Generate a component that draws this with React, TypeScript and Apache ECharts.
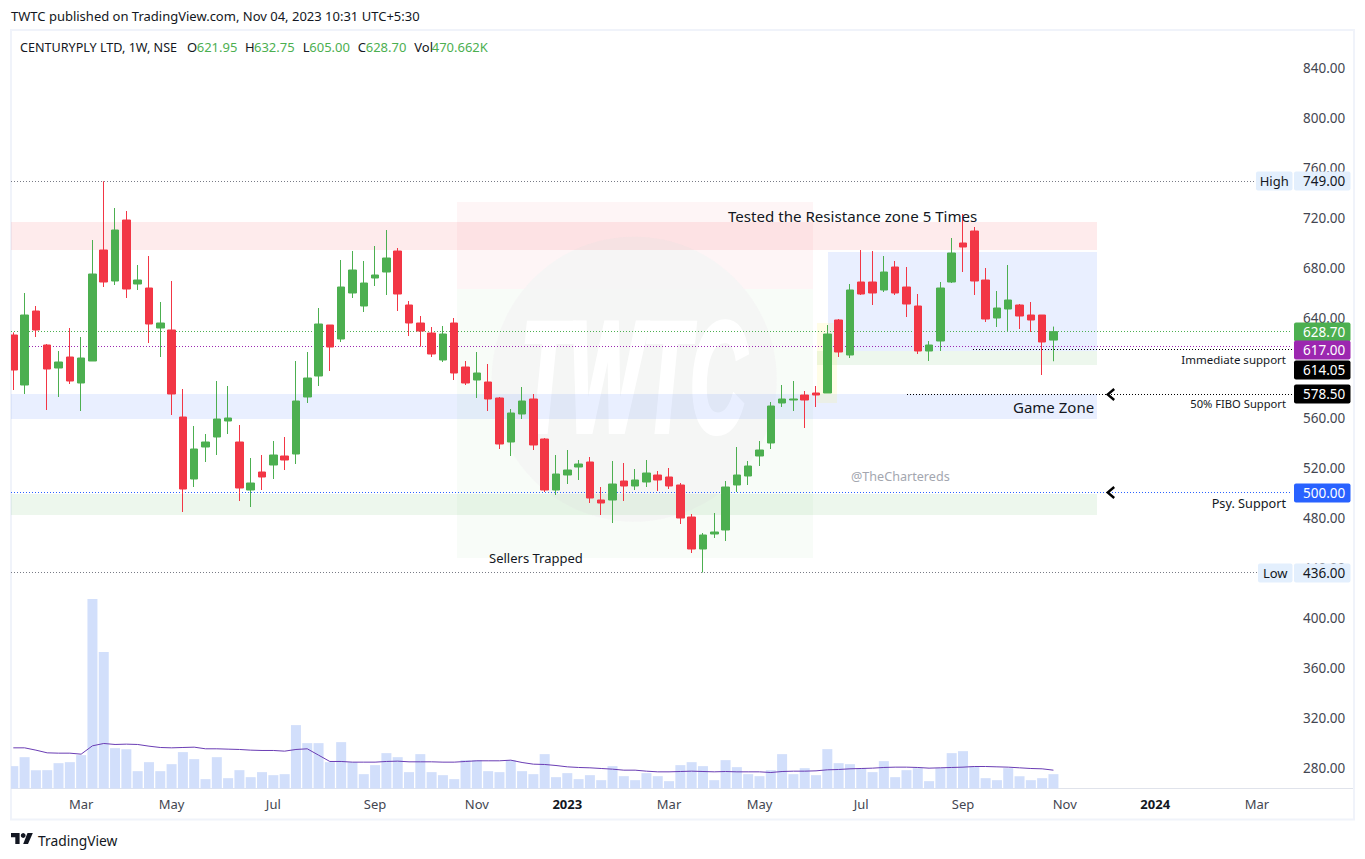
import { useEffect, useRef } from 'react';
import * as echarts from 'echarts';

// weekly OHLC
const opens = [626, 586, 645.2, 618, 599.6, 608.4, 587.6, 605.2, 694, 669.2, 718, 666.8, 663.6, 631.6, 630, 560.4, 510.8, 536.4, 544.4, 557.2, 540.4, 502, 516.4, 522, 529.2, 530.8, 576.4, 593.2, 634, 622.8, 659.6, 649.2, 671.6, 676.4, 693.2, 650, 635.6, 627.6, 606, 635.6, 600.4, 590, 588.4, 575.6, 540.4, 562.8, 574.8, 542.8, 502, 514, 520.4, 524.4, 494, 494, 509.2, 505.2, 508.4, 514, 512.4, 506, 480.4, 454.8, 466.8, 470, 506, 513.2, 529.2, 539.6, 571.6, 574, 578, 579.6, 579.6, 638, 610, 668.4, 668.4, 662, 680.4, 664.4, 649.2, 613.2, 621.2, 668.4, 699.6, 709.2, 670, 639.6, 646.8, 650, 642, 642, 621.95];
const highs = [628.1, 659.6, 649.2, 618.8, 613.2, 631.6, 624.4, 702, 749, 727.6, 725.2, 682, 689.2, 652.4, 669.2, 582.8, 553.2, 546.8, 589.2, 585.2, 554, 527.6, 530, 541.2, 544.4, 605.2, 612.4, 647.6, 634, 686, 693.2, 685.2, 697.2, 710, 695.6, 653.2, 641.2, 632.4, 633.2, 639.6, 605.2, 612.4, 602.8, 576.4, 566.8, 584.4, 578.8, 543.6, 530, 534, 526, 528.4, 504.4, 525.2, 523.6, 518.8, 526, 517.2, 519.6, 507.6, 482.8, 467.6, 483.6, 509.2, 536.4, 525.2, 541.2, 572.4, 586, 589.2, 581.2, 585.2, 634, 638.8, 666.8, 694, 693.2, 689.2, 685.2, 680.4, 658.8, 621.2, 668.4, 703.6, 722.8, 712.4, 679.6, 661.2, 682, 650.8, 652.4, 642, 632.75];
const lows = [582, 578.8, 624.4, 566, 576.4, 586.8, 565.2, 605.2, 664.4, 666, 655.6, 662, 619.6, 608.4, 562, 484.4, 504.4, 524.4, 530, 546.8, 493.2, 488.4, 502, 510.8, 518, 522.8, 571.6, 585.2, 597.2, 620.4, 655.6, 644.4, 665.2, 658, 645.2, 625.2, 616.7, 608.4, 604.4, 590, 586, 575.6, 565.2, 534.8, 529.2, 558.8, 534, 500.4, 498, 506.8, 510, 491.6, 482, 475.6, 493.2, 502, 504.4, 501.2, 502.8, 474.8, 451.6, 436, 463.6, 461.2, 500.4, 506, 521.2, 534.8, 568.4, 565.2, 551.6, 568.4, 579.6, 608.4, 607.6, 658, 650, 660.4, 658, 640.4, 610.8, 605.2, 613.2, 667.6, 676.4, 658, 636.4, 632.4, 628.4, 630.8, 628.4, 594, 605];
const closes = [598, 642, 630, 598.8, 604.4, 589.2, 607.6, 674.8, 668.4, 710, 662.8, 670, 634.8, 635.6, 578.8, 502.8, 534.8, 540.4, 558.8, 559.6, 503.6, 507.6, 512.4, 530, 526, 573.2, 591.6, 634.8, 616.4, 664.4, 678, 667.6, 674, 687.6, 658.8, 635.6, 629.2, 610.8, 626.8, 595.6, 587.6, 595.6, 574.8, 538.8, 563.6, 573.2, 538, 502, 514.8, 518, 522.8, 495.6, 491.6, 506.8, 505.2, 510, 515.6, 510, 505.2, 479.6, 454.8, 466, 468.4, 504.4, 514, 521.2, 534, 569.2, 574.8, 574.8, 574, 578, 626.8, 612.4, 662, 658.8, 659.6, 676.4, 659.6, 650.8, 613.2, 618, 663.6, 691.6, 696.4, 669.2, 638.8, 647.6, 654, 641.2, 638, 620.4, 628.7];

// volume in thousands
const volumes = [734, 1029, 602, 602, 832, 865, 1095, 6220, 4479, 1325, 1292, 569, 865, 569, 799, 1194, 964, 307, 1029, 339, 602, 372, 537, 438, 471, 2081, 1489, 1489, 865, 1522, 865, 471, 767, 1161, 1029, 537, 1128, 537, 438, 307, 931, 931, 569, 537, 931, 569, 471, 1128, 372, 504, 307, 438, 274, 734, 405, 274, 504, 405, 241, 767, 865, 734, 274, 931, 701, 471, 405, 602, 1128, 471, 668, 438, 1292, 832, 799, 668, 537, 898, 372, 602, 668, 241, 668, 1161, 1226, 734, 339, 274, 668, 405, 274, 339, 470.662];
const volumeMa = [1335, 1335, 1259, 1171, 1160, 1160, 1127, 1401, 1478, 1445, 1456, 1445, 1390, 1346, 1335, 1346, 1357, 1303, 1303, 1292, 1281, 1259, 1248, 1248, 1226, 1281, 1303, 1095, 887, 887, 865, 865, 865, 887, 898, 876, 876, 876, 865, 865, 887, 909, 909, 909, 930, 854, 799, 788, 755, 711, 690, 679, 657, 635, 602, 602, 569, 547, 547, 558, 569, 558, 547, 558, 547, 547, 547, 525, 558, 569, 569, 580, 613, 624, 646, 657, 668, 690, 701, 701, 690, 668, 679, 690, 701, 722, 722, 711, 701, 679, 657, 646, 602];

const priceTicks = [280, 320, 360, 400, 440, 480, 520, 560, 600, 640, 680, 720, 760, 800, 840];
const timeTicks = [6, 14, 23, 32, 41, 49, 58, 66, 75, 84, 93, 101, 110];
const timeLabels = ['Mar', 'May', 'Jul', 'Sep', 'Nov', '2023', 'Mar', 'May', 'Jul', 'Sep', 'Nov', '2024', 'Mar'];

// shaded zones, x in bars and y in price; the first two are the big box behind the watermark
const zoneLeft = [39.23, 39.23, -0.2, -0.2, -0.2, 72.07, 71.1, 71.1];
const zoneRight = [70.72, 70.72, 95.87, 95.87, 95.87, 95.87, 95.87, 72.9];
const zoneTop = [732.8, 663.2, 716.7, 578.8, 498.5, 692.8, 613.6, 635.6];
const zoneBottom = [663.2, 448, 694, 558.8, 482, 613.6, 602.4, 572];
const zoneColors = ['rgba(242,54,69,0.05)', 'rgba(76,175,80,0.04)', 'rgba(242,54,69,0.1)', 'rgba(41,98,255,0.1)', 'rgba(76,175,80,0.1)', 'rgba(41,98,255,0.1)', 'rgba(76,175,80,0.1)', 'rgba(255,235,59,0.12)'];

// dotted horizontal levels
const levelPrices = [749, 628.7, 617, 614.05, 578.5, 500, 436];
const levelStart = [-0.2, -0.2, -0.2, 84.9, 79.06, -0.2, -0.2];
const levelEnd = [109.85, 113.1, 113.1, 113.1, 113.1, 113.1, 110.1];
const levelColors = ['#787b86', '#4caf50', '#9c27b0', '#000000', '#000000', '#2962ff', '#787b86'];

// price scale chips
const chipPrices = [749, 628.7, 617, 614.05, 578.5, 500, 436];
const chipShift = [0, 0, 4, 20, 0, 0, 0];
const chipLabels = ['749.00', '628.70', '617.00', '614.05', '578.50', '500.00', '436.00'];
const chipColors = ['#e3effd', '#4caf50', '#9c27b0', '#000000', '#000000', '#2962ff', '#e3effd'];
const chipText = ['#131722', '#ffffff', '#ffffff', '#ffffff', '#ffffff', '#ffffff', '#131722'];
const chipSide = ['High', '', '', '', '', '', 'Low'];

const arrowPrices = [578.5, 500];

const FONT = '"Noto Sans"';
const AXIS_TEXT = '#434651';

const txt = (text: string, x: number, y: number, size = 13, fill = '#131722', align = 'left', extra: any = {}) => ({
  type: 'text',
  x,
  y,
  z: 100,
  silent: true,
  style: { text, fill, fontSize: size, fontFamily: FONT, align, verticalAlign: 'middle', ...extra },
});

const crisp = (v: number) => Math.floor(v) + 0.5;

const zoneSeries = (from: number, to: number, z: number) => ({
  type: 'custom',
  z,
  silent: true,
  yAxisIndex: 0,
  data: zoneLeft.map((x, i) => [x, zoneTop[i], zoneRight[i], zoneBottom[i], i]).slice(from, to),
  renderItem: (_params: any, api: any) => {
    const a = api.coord([api.value(0), api.value(1)]);
    const b = api.coord([api.value(2), api.value(3)]);
    return {
      type: 'rect',
      shape: { x: Math.round(a[0]), y: Math.round(a[1]), width: Math.round(b[0] - a[0]), height: Math.round(b[1] - a[1]) },
      style: { fill: zoneColors[api.value(4)] },
    };
  },
});

function buildOption() {
  const graphic: any[] = [
    // watermark goes over the big box but under the bands
    { type: 'circle', z: 0.5, silent: true, shape: { cx: 634.2, cy: 379.2, r: 142.5 }, style: { fill: 'rgba(245,245,245,0.85)' } },
    {
      type: 'text',
      z: 0.6,
      silent: true,
      x: 521,
      y: 377,
      scaleX: 0.5,
      style: {
        text: 'TWTC',
        fill: '#ffffff',
        stroke: '#ffffff',
        lineWidth: 6,
        fontSize: 156,
        fontWeight: 'bold',
        fontStyle: 'italic',
        fontFamily: '"Liberation Sans"',
        align: 'left',
        verticalAlign: 'middle',
      },
    },
    // panel frame and time scale rule
    { type: 'rect', z: 0, silent: true, shape: { x: 11, y: 30, width: 1343, height: 789.5 }, style: { fill: 'none', stroke: '#f0f3fa', lineWidth: 2 } },
    { type: 'line', z: 0, silent: true, shape: { x1: 11, y1: 788.5, x2: 1353, y2: 788.5 }, style: { stroke: '#e0e3eb', lineWidth: 1 } },
    // the first bar is cut off by the pane edge
    { type: 'rect', z: 89, silent: true, shape: { x: 0, y: 30, width: 11, height: 759 }, style: { fill: '#ffffff' } },
    { type: 'rect', z: 90, silent: true, shape: { x: 10, y: 30, width: 1, height: 759 }, style: { fill: '#f0f3fa' } },

    txt('TWTC published on TradingView.com, Nov 04, 2023 10:31 UTC+5:30', 11, 16),
    txt('CENTURYPLY LTD, 1W, NSE', 20, 47, 12.6),
    txt('O', 187, 47),
    txt('621.95', 196.7, 47, 13, '#4caf50'),
    txt('H', 245, 47),
    txt('632.75', 254, 47, 13, '#4caf50'),
    txt('L', 302.7, 47),
    txt('605.00', 309.3, 47, 13, '#4caf50'),
    txt('C', 357.7, 47),
    txt('628.70', 365.7, 47, 13, '#4caf50'),
    txt('Vol', 414.3, 47),
    txt('470.662K', 431.7, 47, 13, '#4caf50'),

    txt('Tested the Resistance zone 5 Times', 728, 215.5, 15.1),
    txt('Sellers Trapped', 489, 557.5, 13),
    txt('Immediate support', 1286, 359.5, 11.5, '#131722', 'right'),
    txt('50% FIBO Support', 1286, 403.5, 11.2, '#131722', 'right'),
    txt('Game Zone', 1013, 406.5, 15),
    txt('Psy. Support', 1286, 503, 12.7, '#131722', 'right'),
    txt('@TheChartereds', 851, 476, 12.6, '#a3a6af'),

    // TradingView mark
    { type: 'polygon', z: 100, silent: true, shape: { points: [[11, 833], [19.6, 833], [19.6, 844], [15.3, 844], [15.3, 837.3], [11, 837.3]] }, style: { fill: '#131722' } },
    { type: 'circle', z: 100, silent: true, shape: { cx: 23.2, cy: 835.5, r: 2.4 }, style: { fill: '#131722' } },
    { type: 'polygon', z: 100, silent: true, shape: { points: [[27.5, 833], [32.8, 833], [28, 844], [23.2, 844]] }, style: { fill: '#131722' } },
    txt('TradingView', 38, 840, 13.8, '#131722'),
  ];

  return {
    animation: false,
    backgroundColor: '#ffffff',
    textStyle: { fontFamily: FONT },
    grid: { left: 11, top: 30, width: 1281, height: 758.5 },
    xAxis: {
      type: 'value',
      min: -0.2035,
      max: 113.1,
      axisLine: { show: false },
      axisTick: { show: false },
      splitLine: { show: false },
      axisLabel: {
        customValues: timeTicks,
        margin: 9,
        fontFamily: FONT,
        fontSize: 13,
        color: AXIS_TEXT,
        formatter: (v: number) => {
          const label = timeLabels[timeTicks.indexOf(v)];
          return label.startsWith('20') ? `{b|${label}}` : label;
        },
        rich: { b: { fontWeight: 'bold', fontSize: 13, fontFamily: FONT, color: '#131722' } },
      },
    },
    yAxis: [
      {
        type: 'value',
        position: 'right',
        min: 263.2,
        max: 870,
        axisLine: { show: false },
        axisTick: { show: false },
        splitLine: { show: false },
        axisLabel: {
          customValues: priceTicks,
          margin: 11,
          padding: [0, 0, 2, 0],
          fontFamily: FONT,
          fontSize: 13.5,
          color: AXIS_TEXT,
          formatter: (v: number) => v.toFixed(2),
        },
      },
      { type: 'value', show: false, min: 0, max: 24900, splitLine: { show: false } },
    ],
    graphic,
    series: [
      zoneSeries(0, 2, 0),
      zoneSeries(2, zoneLeft.length, 1),
      {
        type: 'custom',
        z: 1,
        silent: true,
        yAxisIndex: 0,
        data: levelStart.map((x, i) => [x, levelPrices[i], levelEnd[i]]),
        renderItem: (params: any, api: any) => {
          const a = api.coord([api.value(0), api.value(1)]);
          const b = api.coord([api.value(2), api.value(1)]);
          const y = crisp(a[1]);
          return {
            type: 'line',
            shape: { x1: Math.round(a[0]), y1: y, x2: Math.round(b[0]), y2: y },
            style: { stroke: levelColors[params.dataIndex], lineWidth: 1, lineDash: [1, 2] },
          };
        },
      },
      {
        type: 'bar',
        yAxisIndex: 1,
        barWidth: 10,
        silent: true,
        itemStyle: { color: '#d2dffb' },
        data: volumes.map((v, i) => [i, v]),
      },
      {
        type: 'line',
        yAxisIndex: 1,
        showSymbol: false,
        silent: true,
        lineStyle: { color: '#6a3db4', width: 1 },
        data: volumeMa.map((v, i) => [i, v]),
      },
      {
        type: 'candlestick',
        yAxisIndex: 0,
        barWidth: 8,
        silent: true,
        itemStyle: { color: '#4caf50', color0: '#f23645', borderColor: '#4caf50', borderColor0: '#f23645', borderWidth: 1 },
        data: opens.map((o, i) => [i, o, closes[i], lows[i], highs[i]]),
      },
      {
        // chevrons on the support levels
        type: 'custom',
        z: 5,
        silent: true,
        yAxisIndex: 0,
        data: arrowPrices.map((p) => [96.8, p]),
        renderItem: (_params: any, api: any) => {
          const c = api.coord([api.value(0), api.value(1)]);
          const y = crisp(c[1]);
          return {
            type: 'polyline',
            shape: { points: [[c[0] + 6.5, y - 5.5], [c[0], y], [c[0] + 6.5, y + 5.5]] },
            style: { stroke: '#000000', lineWidth: 2.4, fill: 'none' },
          };
        },
      },
      {
        // price chips on the scale
        type: 'custom',
        z: 10,
        silent: true,
        clip: false,
        yAxisIndex: 0,
        data: chipPrices.map((p) => [113.1, p]),
        renderItem: (params: any, api: any) => {
          const i = params.dataIndex;
          const c = api.coord([api.value(0), api.value(1)]);
          const y = Math.round(c[1]) + chipShift[i];
          const children: any[] = [
            { type: 'rect', shape: { x: c[0] + 2, y: y - 9.5, width: 56.5, height: 19, r: 2 }, style: { fill: chipColors[i] } },
            {
              type: 'text',
              style: { text: chipLabels[i], x: c[0] + 11, y: y - 0.5, fill: chipText[i], fontSize: 13.5, fontFamily: FONT, align: 'left', verticalAlign: 'middle' },
            },
          ];
          if (chipSide[i]) {
            const w = chipSide[i] === 'High' ? 36.5 : 34.5;
            children.push(
              { type: 'rect', shape: { x: c[0] + 0.5 - w, y: y - 9.5, width: w, height: 19, r: 2 }, style: { fill: chipColors[i] } },
              {
                type: 'text',
                style: { text: chipSide[i], x: c[0] + 0.5 - w / 2, y: y - 0.5, fill: chipText[i], fontSize: 13, fontFamily: FONT, align: 'center', verticalAlign: 'middle' },
              },
            );
          }
          return { type: 'group', children };
        },
      },
    ],
  };
}

export default function App() {
  const ref = useRef<HTMLDivElement>(null);

  useEffect(() => {
    if (!ref.current) return;
    const chart = echarts.init(ref.current, undefined, { renderer: 'svg' });
    chart.setOption(buildOption() as any);
    return () => chart.dispose();
  }, []);

  return <div ref={ref} style={{ position: 'fixed', left: 0, top: 0, width: 1365, height: 859 }} />;
}
